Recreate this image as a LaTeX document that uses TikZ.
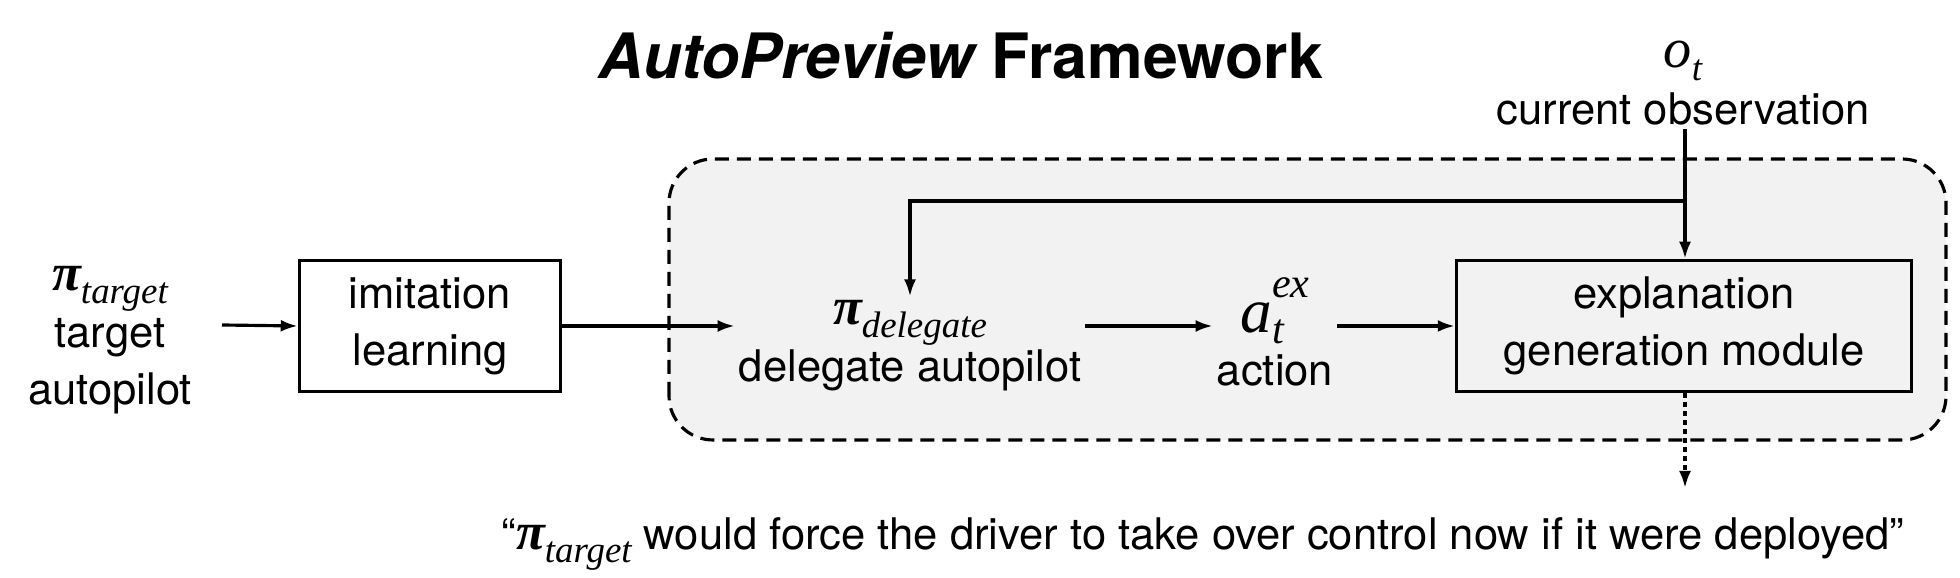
\documentclass[tikz,border=0pt]{standalone}
\usepackage{fontspec}
\setmainfont{TeX Gyre Heros}
\newfontfamily\serifmath{Liberation Serif}
\usetikzlibrary{arrows.meta}
\tikzstyle{block}=[
        draw,
        line width=1pt,
        align=center,
        minimum height=1.31cm
]
\tikzstyle{plain}=[
        align=center,
        inner sep=1pt
]
\tikzstyle{flow}=[
        line width=0.9pt,
        -{Latex[length=0.17cm,width=0.12cm]}
]
\tikzstyle{region}=[
        draw,
        fill=black!5,
        line width=0.9pt,
        dash pattern=on 0.14cm off 0.08cm,
        rounded corners=0.44cm
]
\newcommand{\subsz}{\fontsize{10.5}{11}\selectfont}
\newcommand{\pisub}[1]{{\serifmath\bfseries\itshape\fontsize{15}{15}\selectfont π}\raisebox{-0.3em}{\serifmath\itshape\subsz #1}}
\newcommand{\obsvar}{{\serifmath\itshape\fontsize{16}{16}\selectfont o}\raisebox{-0.3em}{\serifmath\itshape\subsz t}}
\newcommand{\actvar}{{\serifmath\itshape\fontsize{18}{18}\selectfont a}\rlap{\raisebox{-0.25em}{\serifmath\itshape\fontsize{12}{12}\selectfont t}}\raisebox{0.8em}{\serifmath\itshape\fontsize{12}{12}\selectfont ex}}

\begin{document}
\begin{tikzpicture}[font=\fontsize{12.4}{16.2}\selectfont]
                        \useasboundingbox (0,0) rectangle (19.6,5.78);

                        \draw[region] (6.69,1.38) rectangle (19.46,4.19);

                        \node (title) at (9.61,5.22) {\fontsize{17.8}{20}\selectfont\bfseries{\itshape AutoPreview} Framework};

                        \node[plain] (target) at (1.10,2.38) {\pisub{target}\\target\\autopilot};
                        \node[block, minimum width=2.61cm] (imit) at (4.30,2.52) {imitation\\learning};
                        \node[plain] (delegate) at (9.10,2.32) {\pisub{delegate}\\delegate autopilot};
                        \node[plain] (action) at (12.75,2.46) {\actvar\\[-1pt]action};
                        \node[block, minimum width=4.55cm] (expl) at (16.84,2.52) {explanation\\generation module};
                        \node[plain] (obs) at (16.83,4.95) {\obsvar\\current observation};
                        \node[plain] (quote) at (12.03,0.34) {“\pisub{target} would force the driver to take over control now if it were deployed”};

                        \coordinate (split) at (16.85,3.77);
                        \coordinate (out) at (16.85,0.90);

                        \draw[flow] (2.22,2.53) -- (imit.west);
                        \draw[flow] (imit.east) -- (delegate.west |- imit.east);
                        \draw[flow] (delegate.east |- expl.west) -- (action.west |- expl.west);
                        \draw[flow] (action.east |- expl.west) -- (expl.west);
                        \draw[flow] (obs.south -| split) -- (expl.north -| split);
                        \draw[flow] (split) -| (delegate.north);
                        \draw[flow, dash pattern=on 0.05cm off 0.04cm] (expl.south -| out) -- (out);
                    \end{tikzpicture}
\end{document}
